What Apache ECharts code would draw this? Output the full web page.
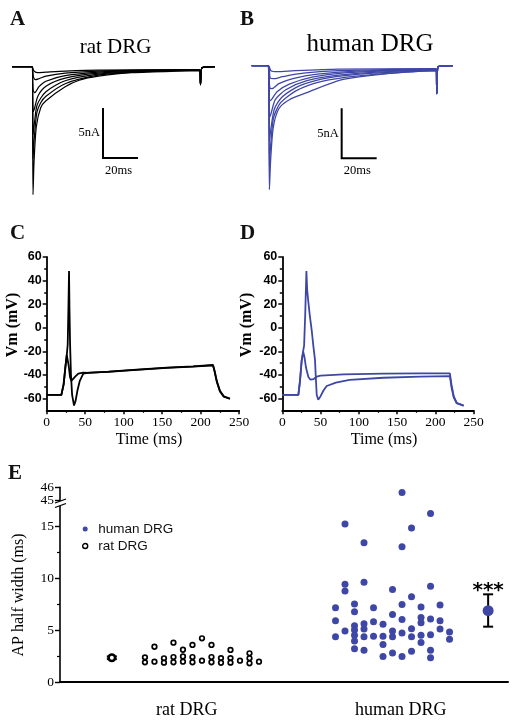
<!DOCTYPE html>
<html><head><meta charset="utf-8">
<script src="https://cdn.jsdelivr.net/npm/echarts@6/dist/echarts.min.js"></script>
<style>html,body{margin:0;padding:0;background:#fff}#c{width:517px;height:723px}</style>
</head><body><div id="c"></div>
<script>
const SERIF = "'Liberation Serif','Times New Roman',serif";
const SANS = "'Liberation Sans',Arial,sans-serif";
const BLUE = '#3f47a6';

// ---------- Panel A / B : Na+ current families [time (ms), current (nA)]
const ratCurrentTraces = [
  [[0,0],[1,-0.4],[3,-0.6],[8,-0.55],[19,-0.45],[38,-0.35],[96,-0.3]],
  [[0,0],[0.8,-1.0],[2,-1.3],[4,-1.2],[8,-0.95],[19,-0.65],[38,-0.45],[60,-0.35],[96,-0.3]],
  [[0,0],[0.7,-2.4],[1.6,-2.6],[4,-2.0],[8,-1.45],[19,-0.9],[38,-0.55],[60,-0.4],[96,-0.3]],
  [[0,0],[0.6,-4.5],[1.4,-4.2],[3.5,-2.9],[8,-1.95],[19,-1.15],[38,-0.65],[60,-0.45],[96,-0.32]],
  [[0,0],[0.6,-6.8],[1.3,-5.8],[3,-3.8],[8,-2.5],[19,-1.4],[38,-0.75],[60,-0.5],[96,-0.35]],
  [[0,0],[0.6,-9.2],[1.3,-7.2],[2.8,-4.6],[5,-3.6],[8,-2.95],[19,-1.7],[38,-0.85],[60,-0.55],[96,-0.35]],
  [[0,0],[0.6,-12.8],[1.2,-9.5],[2.5,-6],[5,-4.1],[8,-3.4],[19,-2.0],[27,-1.35],[38,-0.95],[57,-0.6],[96,-0.4]]
];
const ratLead = [[-11.4,0]];
const ratTail = [[96.3,-1.8],[97.2,-0.1],[104.6,0]];

const humanCurrentTraces = [
  [[0,0],[1.5,-0.5],[5,-0.6],[15,-0.5],[40,-0.35],[96,-0.3]],
  [[0,0],[1,-1.2],[3,-1.3],[8,-1.1],[20,-0.75],[40,-0.5],[70,-0.38],[96,-0.32]],
  [[0,0],[0.8,-2.2],[2,-2.3],[6,-1.8],[14,-1.3],[28,-0.85],[50,-0.55],[96,-0.35]],
  [[0,0],[0.7,-3.5],[1.8,-3.4],[5,-2.6],[12,-1.85],[25,-1.15],[45,-0.7],[70,-0.5],[96,-0.38]],
  [[0,0],[0.6,-5.2],[1.5,-4.8],[4,-3.4],[10,-2.4],[22,-1.5],[40,-0.95],[65,-0.62],[96,-0.42]],
  [[0,0],[0.6,-7.5],[1.4,-6.4],[3.5,-4.3],[8,-3.1],[18,-2.0],[35,-1.2],[60,-0.75],[96,-0.45]],
  [[0,0],[0.6,-10],[1.3,-8],[3,-5.2],[7,-3.7],[16,-2.5],[30,-1.6],[50,-1.05],[75,-0.7],[96,-0.5]],
  [[0,0],[0.6,-12.4],[1.3,-9.5],[2.8,-6.2],[6,-4.3],[12,-3.4],[22,-2.7],[41,-1.45],[60,-0.95],[79,-0.62],[96,-0.48]]
];
const humanLead = [[-9.5,0]];
const humanTail = [[96.2,-2.8],[97,-0.1],[105.5,0]];

const SCALE_MS = 20, SCALE_NA = 5;
const ratScaleAnchor = [40.6, -9.13];
const humanScaleAnchor = [41.9, -9.26];

// ---------- Panel C / D : membrane potential [time (ms), Vm (mV)]
const ratAP = [[0,-57],[19,-57],[22,-48],[24.5,-32],[26,-24],[27.3,-14],[28.3,20],[29,48],[29.6,15],[30.4,-15],[31.5,-40],[33,-57],[35.5,-66],[37.5,-62],[40,-53],[43,-45],[47.5,-39],[55,-38],[80,-37.4],[112,-36],[156,-34],[190,-33],[216,-32],[218,-37],[221,-46],[225,-54],[230,-58.5],[238,-60.3]];
const ratSub = [[0,-57],[19,-57],[22,-48],[24.5,-32],[26,-23],[27.2,-23.5],[28.5,-32],[30.3,-42],[32,-45],[34,-44.5],[37,-41.5],[41,-39],[47.5,-38],[55,-38.2],[80,-37.2],[112,-35.8],[156,-33.9],[190,-32.8],[216,-31.6],[218,-36.5],[221,-45.5],[225,-53.5],[230,-58.2],[238,-60]];
const humanAP = [[0,-57],[21,-57],[23,-46],[25.3,-28],[27,-21],[28.5,-15],[30,12],[31.5,48],[32.5,32],[34,22],[36,10],[38.4,-2],[40.5,-15],[42.7,-27],[44,-45],[45,-57],[47,-61],[50,-58],[54,-53],[58,-49.4],[70,-46.5],[88,-44.3],[132,-42.4],[180,-41.5],[219,-41],[221,-50],[224,-59],[228,-64],[237,-66]];
const humanSub = [[0,-57],[21,-57],[23,-46],[25.3,-28],[27.4,-20.5],[29,-25],[31,-34],[34,-41.5],[36.5,-44],[38.4,-45],[41,-43.5],[45,-41.5],[50,-40.6],[80,-39.6],[132,-38.9],[180,-38.7],[219,-38.7],[221,-48],[224,-58],[228,-64],[237,-66]];
const timeTicks = {min:0, max:250, interval:50};
const vmTicks = [-60,-40,-20,0,20,40,60];
const vmMinorTicks = [-50,-30,-10,10,30,50];

// ---------- Panel E : AP half width (ms), one inner array per swarm column
const categories = ['rat DRG', 'human DRG'];
const ratHalfWidth = [
  [2.37,1.89],[3.39,1.95],[2.28,1.86],[3.78,2.4,1.9],[3.1,2.45,1.95],[3.56,2.4,1.9],
  [4.2,2.05],[3.56,2.4,1.9],[2.3,1.85],[3.08,2.3,1.86],[2.05],[2.76,2.28,1.8],[1.95]
];
const humanHalfWidth = [
  [7.15,5.9,4.36],[15.2,9.4,8.75,4.9],[7.5,6.76,5.4,5.0,4.5,3.95,3.2],[13.4,9.6,5.6,5.1,4.36,3.05],
  [7.15,5.8,4.4],[5.55,4.4,3.6,2.45],[8.9,6.5,4.9,4.36,2.8],[45.6,13.0,7.45,6.0,4.7,2.45],
  [14.8,8.2,5.13,4.36,2.95],[7.2,6.2,5.7,4.5,3.8],[16.2,9.2,6.05,4.55,3.05,2.34],[7.4,5.9,5.1],[4.8,4.1]
];
const ratSummary = {mean:2.33, lo:2.2, hi:2.46};
const humanSummary = {mean:6.86, lo:5.32, hi:8.43};
const sigLabels = ['', '***'];
const eTicksLower = [0,5,10,15,46];
const eTicksUpper = [45];
const eMinorTicks = [2.5,7.5,12.5];

// layout of the E x-scale (swarm columns)
const catPos = [13.2, 35.5];
const meanPos = [5.4, 44.6];
const ratCol0 = 8.85, humanCol0 = 28.7, colStep = 0.99;
// broken y-scale: values above 45 continue above the break
const BREAK = {from:45, at:17.5, scale:1.2};
const toAxis = v => v < BREAK.from ? v : BREAK.at + (v - BREAK.from) * BREAK.scale;

function swarm(cols, x0){
  const out = [];
  cols.forEach((col, j) => col.forEach(v => out.push([x0 + j*colStep, toAxis(v)])));
  return out;
}

const chart = echarts.init(document.getElementById('c'), null, {renderer:'canvas'});

const hidden = {show:false};

function vmY(grid, minor){
  return {
    type:'value', gridIndex:grid, min:-70, max:60, position:'left',
    axisLine:{show:!minor, onZero:false, lineStyle:{color:'#000', width:1.8}},
    axisTick:{show:true, inside:false, length:minor?2.5:4, customValues: minor?vmMinorTicks:vmTicks, lineStyle:{color:'#000', width:1.5}},
    axisLabel:{show:!minor, customValues: vmTicks, margin:5, color:'#000', fontFamily:SANS, fontWeight:'bold', fontSize:12.5},
    splitLine:hidden
  };
}
function timeX(grid){
  return {
    type:'value', gridIndex:grid, min:timeTicks.min, max:timeTicks.max, interval:timeTicks.interval,
    axisLine:{onZero:false, lineStyle:{color:'#000', width:1.8}},
    axisTick:{length:4, lineStyle:{color:'#000', width:1.5}},
    minorTick:{show:true, splitNumber:2, length:2.5, lineStyle:{color:'#000', width:1.2}},
    axisLabel:{margin:5, color:'#000', fontFamily:SERIF, fontSize:13.5},
    splitLine:hidden, minorSplitLine:hidden
  };
}

const series = [];
ratCurrentTraces.forEach(tr => series.push({
  type:'line', xAxisIndex:0, yAxisIndex:0, data:[...ratLead, ...tr, ...ratTail],
  showSymbol:false, smooth:0.25, lineStyle:{color:'#000', width:1.2}, silent:true
}));
humanCurrentTraces.forEach(tr => series.push({
  type:'line', xAxisIndex:1, yAxisIndex:1, data:[...humanLead, ...tr, ...humanTail],
  showSymbol:false, smooth:0.25, lineStyle:{color:BLUE, width:1.3}, silent:true
}));
function scaleBar(idx, anchor){
  return {
    type:'custom', xAxisIndex:idx, yAxisIndex:idx, data:[anchor], silent:true, z:5,
    renderItem(params, api){
      const t = api.value(0), i = api.value(1);
      const top = api.coord([t, i + SCALE_NA]);
      const corner = api.coord([t, i]);
      const right = api.coord([t + SCALE_MS, i]);
      return {type:'group', children:[
        {type:'polyline', shape:{points:[top, corner, right]}, style:{stroke:'#000', lineWidth:2, fill:null}},
        {type:'text', style:{text:SCALE_NA+'nA', x:corner[0]-3, y:(top[1]+corner[1])/2, textAlign:'right', textVerticalAlign:'middle', font:'12.5px '+SERIF, fill:'#000'}},
        {type:'text', style:{text:SCALE_MS+'ms', x:corner[0]+2, y:corner[1]+12.5, textAlign:'left', textVerticalAlign:'middle', font:'12.5px '+SERIF, fill:'#000'}}
      ]};
    }
  };
}
series.push(scaleBar(0, ratScaleAnchor), scaleBar(1, humanScaleAnchor));

[[ratSub,'#000'],[ratAP,'#000']].forEach(([d,c]) => series.push({
  type:'line', xAxisIndex:2, yAxisIndex:2, data:d, showSymbol:false, lineStyle:{color:c, width:1.8}, silent:true
}));
[[humanSub,BLUE],[humanAP,BLUE]].forEach(([d,c]) => series.push({
  type:'line', xAxisIndex:3, yAxisIndex:4, data:d, showSymbol:false, lineStyle:{color:c, width:1.8}, silent:true
}));

series.push({
  name:'rat DRG', type:'scatter', xAxisIndex:4, yAxisIndex:6, data:swarm(ratHalfWidth, ratCol0),
  symbol:'circle', symbolSize:4.6, itemStyle:{color:'#fff', borderColor:'#000', borderWidth:1.7, opacity:1}, silent:true
});
series.push({
  name:'human DRG', type:'scatter', xAxisIndex:4, yAxisIndex:6, data:swarm(humanHalfWidth, humanCol0),
  symbol:'circle', symbolSize:7, itemStyle:{color:BLUE, opacity:1}, silent:true
});
series.push({
  type:'custom', xAxisIndex:4, yAxisIndex:6, z:2, silent:true,
  data:[[meanPos[0], ratSummary.lo, ratSummary.hi],[meanPos[1], humanSummary.lo, humanSummary.hi]],
  renderItem(params, api){
    const x = api.value(0);
    const lo = api.coord([x, toAxis(api.value(1))]);
    const hi = api.coord([x, toAxis(api.value(2))]);
    const st = {stroke:'#000', lineWidth:2};
    return {type:'group', children:[
      {type:'line', shape:{x1:lo[0], y1:lo[1], x2:hi[0], y2:hi[1]}, style:st},
      {type:'line', shape:{x1:lo[0]-5, y1:lo[1], x2:lo[0]+5, y2:lo[1]}, style:st},
      {type:'line', shape:{x1:hi[0]-5, y1:hi[1], x2:hi[0]+5, y2:hi[1]}, style:st},
      {type:'text', style:{text:sigLabels[params.dataIndex], x:hi[0], y:hi[1]-4, textAlign:'center', textVerticalAlign:'middle', font:"bold 20px 'DejaVu Sans'", fill:'#000'}}
    ]};
  }
});
series.push({
  type:'scatter', xAxisIndex:4, yAxisIndex:6, z:3, silent:true,
  data:[[meanPos[0], toAxis(ratSummary.mean)]], symbolSize:6.5,
  itemStyle:{color:'#fff', borderColor:'#000', borderWidth:2.6, opacity:1}
});
series.push({
  type:'scatter', xAxisIndex:4, yAxisIndex:6, z:3, silent:true,
  data:[[meanPos[1], toAxis(humanSummary.mean)]], symbolSize:11,
  itemStyle:{color:BLUE, opacity:1}
});

const lowerPos = eTicksLower.map(toAxis);
const upperPos = eTicksUpper.map(toAxis);
const eMax = toAxis(46) + 0.02;
const labelOf = (vals, pos) => v => { const k = pos.findIndex(p => Math.abs(p - v) < 1e-6); return k < 0 ? '' : String(vals[k]); };
const eLabelStyle = {margin:6, color:'#000', fontFamily:SERIF, fontSize:13.5, hideOverlap:false};
const G = o => Object.assign({outerBoundsMode:'none', containLabel:false}, o);
const option = {
  animation:false,
  backgroundColor:'#fff',
  grid:[
    G({left:12, top:56.7, width:203, height:145}),
    G({left:251.7, top:55.7, width:201.3, height:145}),
    G({left:46.7, top:256.9, width:192.5, height:153.4}),
    G({left:282.3, top:256.9, width:191.3, height:153.4}),
    G({left:60, top:487.3, width:448, height:194.7})
  ],
  xAxis:[
    {type:'value', gridIndex:0, min:-11.4, max:104.6, show:false},
    {type:'value', gridIndex:1, min:-9.5, max:105.5, show:false},
    timeX(2), timeX(3),
    {type:'value', gridIndex:4, min:0, max:46.67,
      axisLine:{onZero:false, lineStyle:{color:'#000', width:2}}, axisTick:hidden, splitLine:hidden,
      axisLabel:{customValues:catPos, formatter:v => categories[catPos.indexOf(v)] ?? '', margin:19, color:'#000', fontFamily:SERIF, fontSize:18}}
  ],
  yAxis:[
    {type:'value', gridIndex:0, min:-13.5, max:1, show:false},
    {type:'value', gridIndex:1, min:-13.5, max:1, show:false},
    vmY(2,false), vmY(2,true), vmY(3,false), vmY(3,true),
    {type:'value', gridIndex:4, min:0, max:eMax, position:'left',
      axisLine:{show:true, onZero:false, lineStyle:{color:'#000', width:1.6}},
      axisTick:{show:true, length:5, customValues:lowerPos.concat(upperPos), lineStyle:{color:'#000', width:1.4}},
      axisLabel:Object.assign({customValues:lowerPos, showMaxLabel:true, showMinLabel:true, formatter:labelOf(eTicksLower, lowerPos)}, eLabelStyle),
      splitLine:hidden},
    {type:'value', gridIndex:4, min:0, max:eMax, position:'left',
      axisLine:{show:false}, splitLine:hidden,
      axisLabel:Object.assign({customValues:upperPos, showMaxLabel:true, showMinLabel:true, formatter:labelOf(eTicksUpper, upperPos)}, eLabelStyle),
      axisTick:{show:true, length:3, customValues:eMinorTicks, lineStyle:{color:'#000', width:1.2}}}
  ],
  legend:{
    orient:'vertical', left:77, top:517, itemWidth:16, itemHeight:5, itemGap:3, selectedMode:false,
    textStyle:{fontFamily:SANS, fontSize:13.5, color:'#111'},
    data:[
      {name:'human DRG', icon:'circle', itemStyle:{color:BLUE}},
      {name:'rat DRG', icon:'circle', itemStyle:{color:'#fff', borderColor:'#000', borderWidth:1.4}}
    ]
  },
  graphic:[
    ...[['A',10,20],['B',240,20],['C',10,233.5],['D',240,233.5],['E',8,474]].map(([t,x,y]) => ({
      type:'text', z:100, style:{text:t, x, y, textAlign:'left', textVerticalAlign:'middle', font:'bold 21px '+SERIF, fill:'#111'}
    })),
    {type:'text', z:100, style:{text:categories[0], x:115.5, y:47.8, textAlign:'center', textVerticalAlign:'middle', font:'21px '+SERIF, fill:'#000'}},
    {type:'text', z:100, style:{text:categories[1], x:370, y:44.7, textAlign:'center', textVerticalAlign:'middle', font:'25px '+SERIF, fill:'#000'}},
    {type:'text', z:100, x:12.5, y:325, rotation:Math.PI/2, style:{text:'Vm (mV)', x:0, y:0, textAlign:'center', textVerticalAlign:'middle', font:'bold 16px '+SERIF, fill:'#000'}},
    {type:'text', z:100, x:247, y:325, rotation:Math.PI/2, style:{text:'Vm (mV)', x:0, y:0, textAlign:'center', textVerticalAlign:'middle', font:'bold 16px '+SERIF, fill:'#000'}},
    {type:'text', z:100, style:{text:'Time (ms)', x:149, y:440, textAlign:'center', textVerticalAlign:'middle', font:'16px '+SERIF, fill:'#000'}},
    {type:'text', z:100, style:{text:'Time (ms)', x:384, y:440, textAlign:'center', textVerticalAlign:'middle', font:'16px '+SERIF, fill:'#000'}},
    {type:'text', z:100, x:19, y:595, rotation:Math.PI/2, style:{text:'AP half width (ms)', x:0, y:0, textAlign:'center', textVerticalAlign:'middle', font:'16px '+SERIF, fill:'#000'}},
    {type:'polygon', z:100, shape:{points:[[55,503],[66,499],[66,503.5],[55,507.5]]}, style:{fill:'#fff'}},
    {type:'line', z:101, shape:{x1:55, y1:503, x2:66, y2:499}, style:{stroke:'#000', lineWidth:1.3}},
    {type:'line', z:101, shape:{x1:55, y1:507.5, x2:66, y2:503.5}, style:{stroke:'#000', lineWidth:1.3}}
  ],
  series
};
chart.setOption(option);
</script></body></html>
